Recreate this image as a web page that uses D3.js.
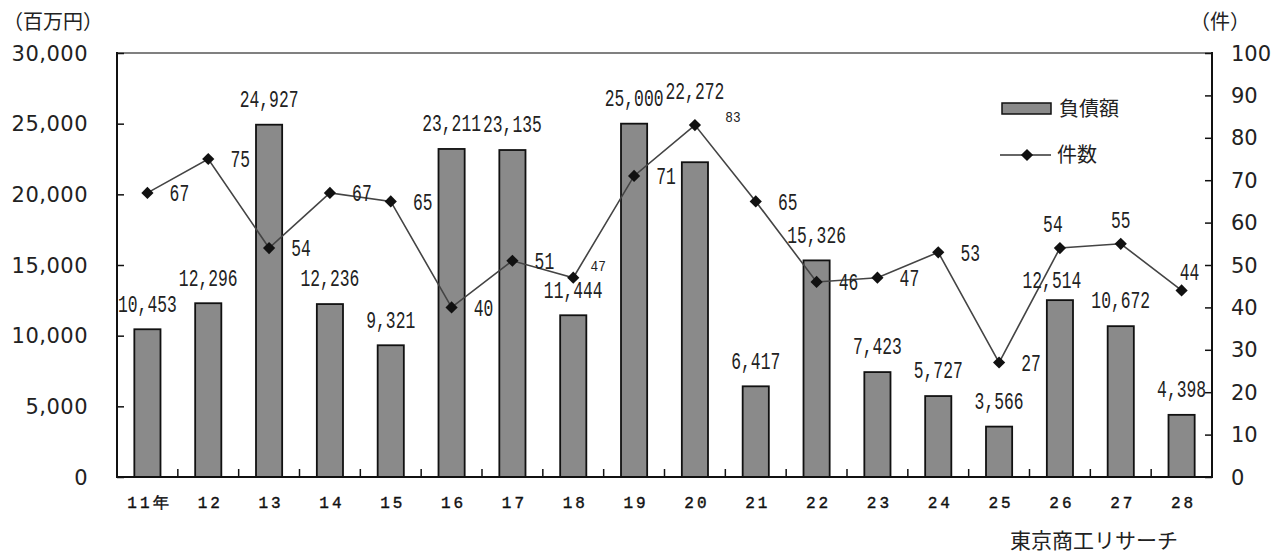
<!DOCTYPE html>
<html>
<head>
<meta charset="utf-8">
<script src="https://cdn.jsdelivr.net/npm/d3@7"></script>
<style>
  html, body { margin: 0; padding: 0; background: #fff; }
  svg { display: block; }
</style>
</head>
<body>
<svg id="view" width="1287" height="555"></svg>
<script>
// data
var years = ['11年','12','13','14','15','16','17','18','19','20','21','22','23','24','25','26','27','28'];
var debt = [10453,12296,24927,12236,9321,23211,23135,11444,25000,22272,6417,15326,7423,5727,3566,12514,10672,4398];
var cases = [67,75,54,67,65,40,51,47,71,83,65,46,47,53,27,54,55,44];
var leftTicks = [0,5000,10000,15000,20000,25000,30000];
var rightTicks = [0,10,20,30,40,50,60,70,80,90,100];

var svg = d3.select('svg#view');
var plot = {left: 117, right: 1212, top: 53, bottom: 477};

var x = d3.scaleBand().domain(years).range([plot.left, plot.right]).paddingInner(0.57).paddingOuter(0.285);
var yL = d3.scaleLinear().domain([0, 30000]).range([plot.bottom, plot.top]);
var yR = d3.scaleLinear().domain([0, 100]).range([plot.bottom, plot.top]);
var cx = function(d, i) { return x(years[i]) + x.bandwidth() / 2; };

var fmt = d3.format(',');
var numFont = '"Liberation Mono", monospace';
var axFont = '"DejaVu Sans", sans-serif';
var jpFont = '"Noto Sans CJK JP", sans-serif';

// top border (gray)
svg.append('line')
	.attr('x1', plot.left).attr('x2', plot.right)
	.attr('y1', plot.top).attr('y2', plot.top)
	.attr('stroke', '#808080').attr('stroke-width', 2);

// bars
svg.append('g').selectAll('rect')
	.data(debt)
	.join('rect')
	.attr('x', function(d, i) { return x(years[i]); })
	.attr('y', function(d) { return yL(d); })
	.attr('width', x.bandwidth())
	.attr('height', function(d) { return plot.bottom - yL(d); })
	.attr('fill', '#8a8a8a')
	.attr('stroke', '#111')
	.attr('stroke-width', 1.8);

// axes
var leftAxis = d3.axisRight(yL).tickValues(leftTicks).tickSize(7).tickFormat('');
var rightAxis = d3.axisLeft(yR).tickValues(rightTicks).tickSize(7).tickFormat('');

var gl = svg.append('g').attr('transform', 'translate(' + plot.left + ',0)').call(leftAxis);
var gr = svg.append('g').attr('transform', 'translate(' + plot.right + ',0)').call(rightAxis);
[gl, gr].forEach(function(g) {
	g.select('.domain').remove();
	g.selectAll('.tick line').attr('stroke', '#111').attr('stroke-width', 1.5);
});
svg.append('line').attr('x1', plot.left).attr('x2', plot.left).attr('y1', plot.top - 1).attr('y2', plot.bottom + 1)
	.attr('stroke', '#111').attr('stroke-width', 2);
svg.append('line').attr('x1', plot.right).attr('x2', plot.right).attr('y1', plot.top - 1).attr('y2', plot.bottom + 1)
	.attr('stroke', '#111').attr('stroke-width', 2);

// x ticks between categories
var sep = years.slice(1);
svg.append('g').selectAll('line')
	.data(sep)
	.join('line')
	.attr('x1', function(d) { return x(d) - x.step() * x.paddingInner() / 2; })
	.attr('x2', function(d) { return x(d) - x.step() * x.paddingInner() / 2; })
	.attr('y1', plot.bottom).attr('y2', plot.bottom - 8)
	.attr('stroke', '#111').attr('stroke-width', 1.5);
svg.append('line').attr('x1', plot.left - 1).attr('x2', plot.right + 1).attr('y1', plot.bottom).attr('y2', plot.bottom)
	.attr('stroke', '#111').attr('stroke-width', 2);

// tick labels
svg.append('g').selectAll('text')
	.data(leftTicks)
	.join('text')
	.attr('x', 88).attr('y', function(d) { return yL(d); })
	.attr('dy', '0.36em')
	.attr('text-anchor', 'end')
	.attr('font-family', axFont).attr('font-size', 21).attr('fill', '#222')
	.attr('letter-spacing', 0.5)
	.text(fmt);

svg.append('g').selectAll('text')
	.data(rightTicks)
	.join('text')
	.attr('x', 1231).attr('y', function(d) { return yR(d); })
	.attr('dy', '0.36em')
	.attr('font-family', axFont).attr('font-size', 21).attr('fill', '#222')
	.text(function(d) { return d; });

svg.append('g').selectAll('text')
	.data(years)
	.join('text')
	.attr('x', function(d) { return x(d) + x.bandwidth() / 2 + 2; })
	.attr('y', 502)
	.attr('dy', '0.36em')
	.attr('text-anchor', 'middle')
	.attr('font-family', numFont).attr('font-size', 16)
	.attr('letter-spacing', 3).attr('fill', '#111')
	.attr('stroke', '#111').attr('stroke-width', 0.4)
	.text(function(d) { return d; });

// line
var line = d3.line()
	.x(cx)
	.y(function(d) { return yR(d); });

svg.append('path')
	.datum(cases)
	.attr('d', line)
	.attr('fill', 'none')
	.attr('stroke', '#444')
	.attr('stroke-width', 1.6);

var diamond = d3.symbol().type(d3.symbolDiamond2).size(95);
svg.append('g').selectAll('path')
	.data(cases)
	.join('path')
	.attr('transform', function(d, i) { return 'translate(' + cx(d, i) + ',' + yR(d) + ')'; })
	.attr('d', diamond)
	.attr('fill', '#111');

// data labels
function label(g, px, py, txt, size, sx) {
	g.append('text')
		.attr('transform', 'translate(' + px + ',' + py + ') scale(' + sx + ',1)')
		.attr('dy', '0.36em')
		.attr('text-anchor', 'middle')
		.attr('font-family', numFont).attr('font-size', size)
		.attr('fill', '#222')
		.text(txt);
}

// nudges where labels were moved in the original
var barNudge = {9: [0, -46], 15: [-8, 6]};
var lineNudge = {
	7: [-7, -12, true], 9: [6, -8, true], 15: [-39, -24], 16: [-32, -24], 17: [-24, -19]
};

var gb = svg.append('g');
debt.forEach(function(d, i) {
	var n = barNudge[i] || [0, 0];
	label(gb, cx(d, i) + n[0], yL(d) - 26 + n[1], fmt(d), 23, 0.71);
});

var gn = svg.append('g');
cases.forEach(function(d, i) {
	var n = lineNudge[i] || [0, 0];
	var small = n[2];
	label(gn, cx(d, i) + 32 + n[0], yR(d) + n[1], d, small ? 15 : 23, small ? 0.85 : 0.71);
});

// legend
var lg = svg.append('g');
lg.append('rect').attr('x', 1002).attr('y', 103).attr('width', 49).attr('height', 11)
	.attr('fill', '#8a8a8a').attr('stroke', '#111').attr('stroke-width', 1.5);
lg.append('text').attr('x', 1059).attr('y', 109).attr('dy', '0.36em')
	.attr('font-family', jpFont).attr('font-size', 20).attr('fill', '#222').text('負債額');
lg.append('line').attr('x1', 1000).attr('x2', 1051).attr('y1', 155).attr('y2', 155)
	.attr('stroke', '#333').attr('stroke-width', 1.6);
lg.append('path').attr('transform', 'translate(1027,155)').attr('d', diamond).attr('fill', '#111');
lg.append('text').attr('x', 1057).attr('y', 155).attr('dy', '0.36em')
	.attr('font-family', jpFont).attr('font-size', 20).attr('fill', '#222').text('件数');

// titles
svg.append('text').attr('x', 3).attr('y', 22).attr('dy', '0.36em')
	.attr('font-family', jpFont).attr('font-size', 20).attr('fill', '#222').text('（百万円）');
svg.append('text').attr('x', 1190).attr('y', 22).attr('dy', '0.36em')
	.attr('font-family', jpFont).attr('font-size', 20).attr('fill', '#222').text('（件）');
svg.append('text').attr('x', 1010).attr('y', 540).attr('dy', '0.36em')
	.attr('font-family', jpFont).attr('font-size', 21).attr('fill', '#222').text('東京商工リサーチ');
</script>
</body>
</html>
